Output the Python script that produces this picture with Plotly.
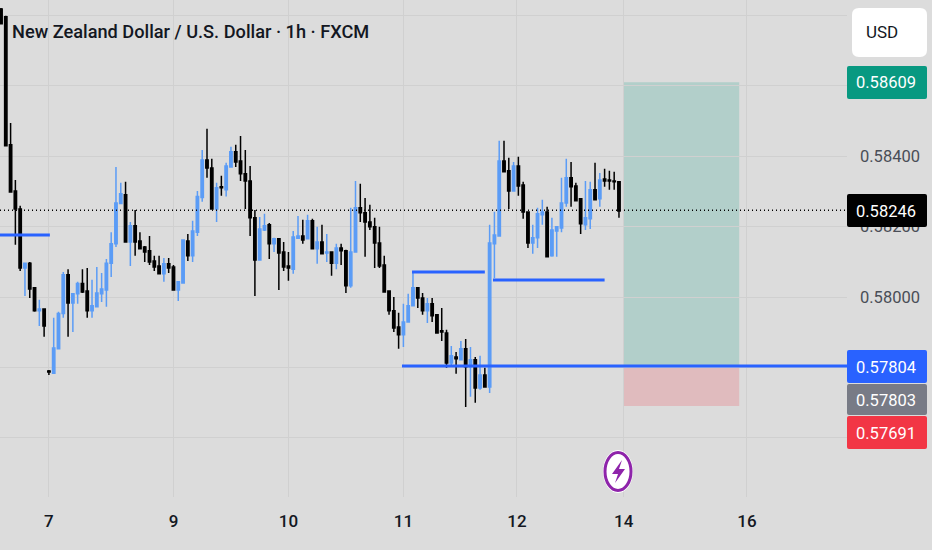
import numpy as np
import plotly.graph_objects as go

# NZDUSD 1h candles, prices in 1e-5 units
opens = [58817,58795,58432,58301,58250,58082,58096,58026,57961,57966,57790,57784,57853,57953,58063,57983,58009,58038,58017,57961,
         57972,58009,58020,58096,58151,58265,58290,58156,58202,58159,58142,58131,58102,58088,58066,58094,58085,58020,58040,58159,
         58117,58184,58282,58389,58366,58250,58313,58304,58369,58412,58386,58350,58329,58225,58105,58190,58205,58151,58165,58128,
         58088,58079,58167,58173,58165,58216,58137,58156,58125,58128,58096,58139,58131,58032,58128,58253,58239,58213,58199,58153,
         58091,58017,57961,57915,57893,57929,57975,58026,57997,57961,57981,57950,57904,57898,57813,57830,57822,57853,57802,57822,
         57742,57779,57745,58151,58173,58386,58358,58301,58372,58318,58241,58153,58168,58233,58241,58117,58187,58196,58267,58338,
         58315,58279,58205,58222,58304,58279,58335,58332,58329,58327]
highs = [58820,58798,58494,58332,58259,58096,58099,58026,57992,57966,57793,57941,57958,58071,58079,58009,58043,58079,58082,58049,
         58085,58068,58108,58184,58369,58324,58327,58213,58247,58184,58145,58173,58117,58117,58111,58111,58091,58043,58162,58179,
         58216,58301,58417,58477,58392,58324,58344,58381,58426,58432,58457,58417,58372,58247,58227,58236,58210,58168,58165,58156,
         58128,58187,58230,58219,58233,58222,58199,58205,58179,58128,58151,58151,58134,58253,58329,58321,58281,58262,58225,58199,
         58117,58017,58000,57955,57981,58009,58071,58026,58011,57997,57997,57950,57969,57907,57861,57844,57875,57881,57858,57830,
         57833,57799,58205,58242,58443,58443,58395,58383,58398,58327,58241,58205,58253,58276,58256,58225,58199,58338,58392,58383,
         58324,58279,58329,58327,58381,58352,58364,58358,58355,58327]
lows = [58775,58429,58298,58148,58074,58003,57997,57958,57918,57887,57779,57784,57853,57941,57887,57901,57981,58011,57941,57941,
        57972,57986,57972,58057,58142,58265,58156,58088,58117,58137,58099,58091,58074,58066,58043,58068,58020,57989,58040,58102,
        58099,58173,58270,58338,58250,58213,58287,58285,58369,58369,58329,58250,58173,58003,58105,58187,58108,58128,58020,58074,
        58046,58066,58165,58151,58165,58137,58094,58123,58099,58060,58079,58091,58011,58026,58128,58213,58114,58190,58082,58082,
        58014,57950,57901,57853,57858,57929,57975,57969,57950,57926,57929,57898,57875,57799,57802,57782,57822,57688,57717,57700,
        57737,57745,57728,58054,58173,58355,58250,58301,58287,58222,58139,58123,58139,58205,58114,58114,58114,58184,58256,58256,
        58273,58179,58190,58193,58276,58256,58313,58304,58304,58225]
closes = [58775,58429,58298,58250,58082,58096,58023,57961,57966,57918,57787,57855,57953,58063,57983,58009,58038,58014,57961,57975,
          58011,58023,58096,58151,58267,58293,58156,58202,58156,58137,58128,58099,58085,58066,58094,58082,58020,58043,58162,58117,
          58187,58285,58389,58366,58250,58310,58310,58372,58412,58383,58350,58329,58225,58105,58193,58202,58151,58165,58125,58085,
          58082,58170,58173,58162,58216,58137,58156,58123,58128,58096,58139,58131,58032,58128,58253,58239,58213,58199,58153,58088,
          58014,57961,57912,57893,57929,57975,58026,57997,57961,57981,57947,57898,57901,57813,57833,57825,57853,57802,57822,57742,
          57779,57745,58153,58176,58386,58355,58301,58372,58315,58241,58153,58168,58236,58241,58114,58190,58199,58267,58338,58313,
          58273,58208,58225,58304,58276,58332,58329,58329,58327,58244]
bars = list(range(len(opens)))

day_labels = ['7', '9', '10', '11', '12', '14', '16']
day_bars = [10, 36, 60, 84, 107.7, 130, 155.7]
price_ticks = [0.576, 0.578, 0.580, 0.582, 0.584, 0.586, 0.588]
# the others sit behind the label boxes
price_labels = ['', '', '0.58000', '0.58200', '0.58400', '', '']

last_price = 0.58246
entry = 0.57804
target = 0.58609
stop = 0.57691
mid_label = 0.57803
old_level = 0.58176
upper_level = 0.58071
lower_level = 0.58048

BG = '#dcdcdc'
GRID = '#d0d0d0'
BLUE = '#5b9cf6'
LINE_BLUE = '#2962ff'
W, H = 847, 497   # plot area in pixels
FONT = 'Roboto'


def px(x):
    return x / W


def py(y):
    return 1 - y / H


def tag(x0, y0, x1, y1, color, r=2):
    # rounded label box, drawn over the axis labels
    a, b, c, d = px(x0), py(y0), px(x1), py(y1)
    rx, ry = r / W, r / H
    return dict(type='path', xref='paper', yref='paper', layer='above', fillcolor=color, line_width=0,
                path=f'M{a+rx},{b} L{c-rx},{b} Q{c},{b} {c},{b-ry} L{c},{d+ry} Q{c},{d} {c-rx},{d} '
                     f'L{a+rx},{d} Q{a},{d} {a},{d+ry} L{a},{b-ry} Q{a},{b} {a+rx},{b} Z')


def oval(cx, cy, rx, ry, **kw):
    return dict(type='circle', xref='paper', yref='paper', layer='above',
                x0=px(cx - rx), x1=px(cx + rx), y0=py(cy + ry), y1=py(cy - ry), **kw)


fig = go.Figure(go.Candlestick(
    x=bars,
    open=np.array(opens) / 1e5, high=np.array(highs) / 1e5,
    low=np.array(lows) / 1e5, close=np.array(closes) / 1e5,
    increasing=dict(line=dict(color=BLUE, width=1.5), fillcolor=BLUE),
    decreasing=dict(line=dict(color='#000000', width=1.5), fillcolor='#000000'),
    whiskerwidth=0,
    showlegend=False,
))

shapes = [
    dict(type='rect', x0=130, x1=154.1, y0=entry, y1=target, fillcolor='rgba(8,153,129,0.2)', line_width=0, layer='below'),
    dict(type='rect', x0=130, x1=154.1, y0=stop, y1=entry, fillcolor='rgba(242,54,69,0.2)', line_width=0, layer='below'),
    dict(type='line', x0=-0.21, x1=176.6, y0=last_price, y1=last_price, line=dict(color='#000000', width=1.5, dash='1px,3px')),
    dict(type='line', x0=83.7, x1=176.6, y0=entry, y1=entry, line=dict(color=LINE_BLUE, width=3)),
    dict(type='line', x0=-0.21, x1=10.2, y0=old_level, y1=old_level, line=dict(color=LINE_BLUE, width=3)),
    dict(type='line', x0=85.8, x1=101, y0=upper_level, y1=upper_level, line=dict(color=LINE_BLUE, width=3)),
    dict(type='line', x0=102.7, x1=126, y0=lower_level, y1=lower_level, line=dict(color=LINE_BLUE, width=3)),
    tag(852, 8, 927, 57, '#ffffff', r=7),
    tag(847, 66, 927, 99, '#089981'),
    tag(847, 194, 927, 227, '#000000'),
    tag(847, 350, 927, 383, LINE_BLUE),
    tag(847, 384, 927, 415, '#787b86'),
    tag(847, 416, 927, 449, '#f23645'),
    # the bolt badge
    oval(618, 471.5, 15, 21.5, fillcolor='#ffffff', line_width=0),
    oval(618, 471.5, 13, 19, fillcolor='#ffffff', line=dict(color='#8e24aa', width=3)),
    dict(type='path', xref='paper', yref='paper', layer='above', fillcolor='#8e24aa', line_width=0,
         path=f'M{px(622)},{py(460)} L{px(612)},{py(474)} L{px(618)},{py(474)} L{px(615)},{py(483)} '
              f'L{px(625)},{py(469)} L{px(619)},{py(469)} Z'),
]

notes = [
    ('New Zealand Dollar / U.S. Dollar · 1h · FXCM', 10, 32, '#131722', 'left', 18.2, 500),
    ('USD', 864, 32, '#131722', 'left', 17, 400),
]
for val, y in [(target, 83), (last_price, 211), (entry, 367), (mid_label, 400), (stop, 433)]:
    notes.append((f'{val:.5f}', 918, y, '#ffffff', 'right', 16.5, 400))

annotations = [
    dict(text=t, xref='paper', yref='paper', x=px(x), y=py(y), xanchor=anchor, yanchor='middle',
         showarrow=False, font=dict(family=FONT, size=size, color=col, weight=weight))
    for t, x, y, col, anchor, size, weight in notes
]

fig.update_layout(
    width=932, height=550,
    margin=dict(l=0, r=85, t=0, b=53),
    paper_bgcolor=BG, plot_bgcolor=BG,
    shapes=shapes, annotations=annotations,
    xaxis=dict(range=[-0.21, 176.6], tickvals=day_bars, ticktext=day_labels, showgrid=True, gridcolor=GRID, gridwidth=1,
               zeroline=False, showline=False, ticks='', rangeslider=dict(visible=False), ticklabelstandoff=12,
               tickfont=dict(family=FONT, size=17, color='#131722', weight=500)),
    yaxis=dict(range=[0.574326, 0.588426], side='right', tickvals=price_ticks, ticktext=price_labels, showgrid=True,
               gridcolor=GRID, gridwidth=1, zeroline=False, showline=False, ticks='', ticklabelstandoff=12,
               tickfont=dict(family=FONT, size=16.5, color='#4a4e57')),
)

# drop the browser's default page margin so the chart fills the window
fig.write_html("out.html", config={'displayModeBar': False}, post_script="document.body.style.margin='0';")
